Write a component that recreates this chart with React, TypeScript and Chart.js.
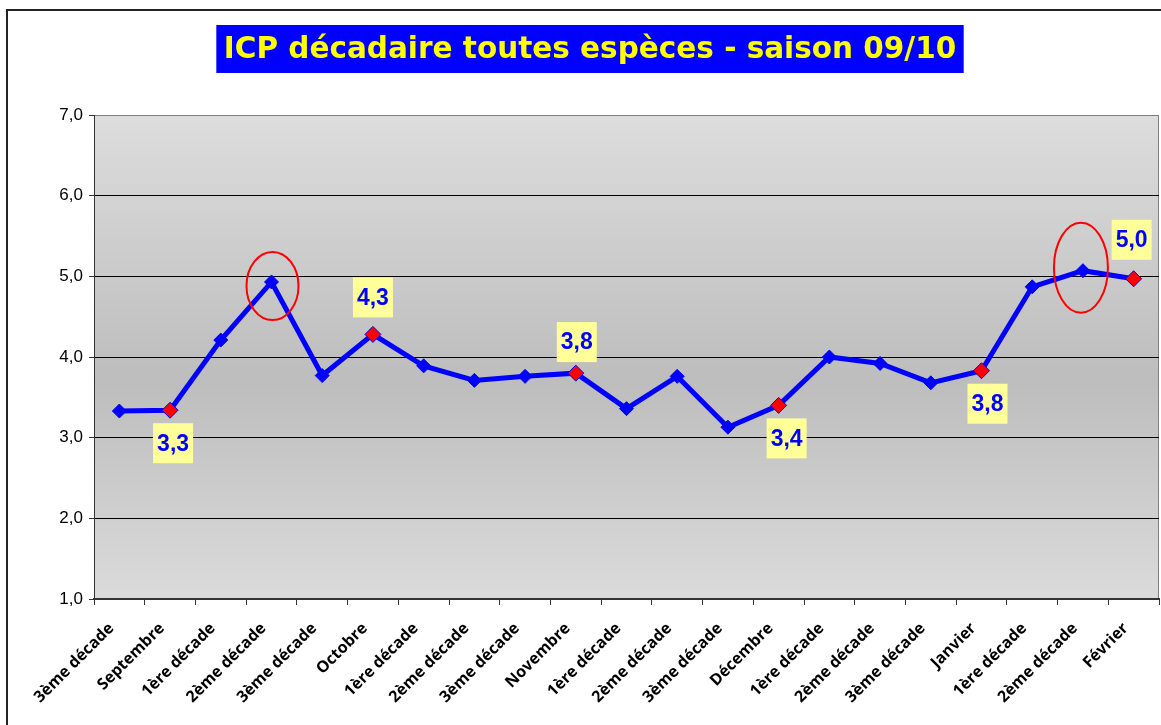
import React, { useEffect, useRef } from "react";
import { Chart, registerables } from "chart.js";

Chart.register(...registerables);

const TITLE = "ICP décadaire toutes espèces - saison 09/10";

const categories = [
  "3ème décade", "Septembre", "1ère décade", "2ème décade", "3ème décade",
  "Octobre", "1ère décade", "2ème décade", "3ème décade", "Novembre",
  "1ère décade", "2ème décade", "3ème décade", "Décembre", "1ère décade",
  "2ème décade", "3ème décade", "Janvier", "1ère décade", "2ème décade", "Février",
];

const icpValues = [
  3.33, 3.34, 4.21, 4.93, 3.77, 4.28, 3.89, 3.71, 3.76, 3.80, 3.36,
  3.76, 3.13, 3.40, 4.00, 3.92, 3.68, 3.83, 4.87, 5.07, 4.97,
];

// month-end points, shown in red with a value label
const highlighted = [1, 5, 9, 13, 17, 20];
// points circled in red
const circled = [3, 19];

const yMin = 1;
const yMax = 7;
const yStep = 1;

// style: label offsets (px) per highlighted point
const labelOffsets: [number, number][] = [
  [3, 33], [0, -37], [1, -31], [8, 33], [6, 33], [-2, -39],
];
// style: ellipse geometry per circled point [dx, dy, rx, ry]
const ellipseStyle: [number, number, number, number][] = [
  [1, 4, 26, 34],
  [-2, -3, 27, 45],
];

const fmt = (v: number) => v.toFixed(1).replace(".", ",");

export default function App() {
  const ref = useRef<HTMLCanvasElement | null>(null);

  useEffect(() => {
    const canvas = ref.current;
    if (!canvas) return;
    document.body.style.margin = "0";

    const decorPlugin = {
      id: "decor",
      beforeDraw(chart: any) {
        const { ctx, chartArea: a } = chart;
        ctx.save();
        ctx.fillStyle = "#ffffff";
        ctx.fillRect(0, 0, chart.width, chart.height);
        // outer frame
        ctx.strokeStyle = "#222";
        ctx.lineWidth = 2;
        ctx.beginPath();
        ctx.moveTo(7, chart.height);
        ctx.lineTo(7, 10);
        ctx.lineTo(chart.width, 10);
        ctx.stroke();
        // plot background gradient
        const g = ctx.createLinearGradient(0, a.top, 0, a.bottom);
        g.addColorStop(0, "#dddddd");
        g.addColorStop(0.55, "#bdbdbd");
        g.addColorStop(1, "#dbdbdb");
        ctx.fillStyle = g;
        ctx.fillRect(a.left, a.top, a.right - a.left, a.bottom - a.top);
        ctx.strokeStyle = "#808080";
        ctx.lineWidth = 1;
        ctx.strokeRect(a.left + 0.5, a.top + 0.5, a.right - a.left - 1, a.bottom - a.top);
        // title
        ctx.font = "bold 29.5px 'DejaVu Sans'";
        const tw = ctx.measureText(TITLE).width;
        const cx = 590;
        const bw = tw + 15;
        ctx.fillStyle = "#0000ff";
        ctx.fillRect(cx - bw / 2, 25, bw, 48);
        ctx.fillStyle = "#ffff00";
        ctx.textAlign = "center";
        ctx.textBaseline = "middle";
        ctx.fillText(TITLE, cx, 50);
        ctx.restore();
      },
      afterDatasetsDraw(chart: any) {
        const { ctx } = chart;
        const meta = chart.getDatasetMeta(0);
        ctx.save();
        // ellipses
        circled.forEach((idx, i) => {
          const p = meta.data[idx];
          const [dx, dy, rx, ry] = ellipseStyle[i];
          ctx.strokeStyle = "#ff0000";
          ctx.lineWidth = 2;
          ctx.beginPath();
          ctx.ellipse(p.x + dx, p.y + dy, rx, ry, 0, 0, Math.PI * 2);
          ctx.stroke();
        });
        // value labels
        ctx.font = "bold 23px 'Liberation Sans'";
        ctx.textAlign = "center";
        ctx.textBaseline = "middle";
        highlighted.forEach((idx, i) => {
          const p = meta.data[idx];
          const [dx, dy] = labelOffsets[i];
          const x = p.x + dx;
          const y = p.y + dy;
          ctx.fillStyle = "#ffff99";
          ctx.fillRect(x - 20, y - 20, 40, 40);
          ctx.fillStyle = "#0000ff";
          ctx.fillText(fmt(icpValues[idx]), x, y + 1);
        });
        ctx.restore();
      },
    };

    const chart = new Chart(canvas, {
      type: "line",
      data: {
        labels: categories,
        datasets: [
          {
            data: icpValues,
            borderColor: "#0000ff",
            borderWidth: 5,
            pointStyle: "rectRot",
            pointRadius: icpValues.map((_, i) => (highlighted.includes(i) ? 8 : 7)),
            pointHoverRadius: 7,
            pointBackgroundColor: icpValues.map((_, i) =>
              highlighted.includes(i) ? "#ff0000" : "#0000ff"
            ),
            pointBorderColor: "#0000ff",
            pointBorderWidth: 1,
            tension: 0,
          },
        ],
      },
      options: {
        responsive: false,
        animation: false,
        events: [],
        layout: { autoPadding: false, padding: { top: 115, right: 2, left: 0, bottom: 0 } },
        plugins: {
          legend: { display: false },
          tooltip: { enabled: false },
          title: { display: false },
        },
        scales: {
          x: {
            type: "category",
            offset: true,
            grid: {
              offset: true,
              drawOnChartArea: false,
              drawTicks: true,
              tickLength: 6,
              color: "#333333",
            },
            border: { color: "#333333", width: 2 },
            ticks: {
              autoSkip: false,
              maxRotation: 45,
              minRotation: 45,
              padding: 14,
              labelOffset: -8,
              color: "#000000",
              font: { family: "'Open Sans'", size: 16, weight: "bold" },
            },
            afterFit(scale: any) {
              scale.height = 126;
              scale.paddingLeft = 0;
              scale.paddingRight = 0;
            },
          },
          y: {
            min: yMin,
            max: yMax,
            ticks: {
              stepSize: yStep,
              padding: 6,
              color: "#000000",
              font: { family: "'Liberation Sans'", size: 17 },
              callback: (v: any) => fmt(Number(v)),
            },
            grid: {
              color: (c: any) => (c.tick && c.tick.value === yMax ? "#808080" : "#000000"),
              lineWidth: 1,
              tickLength: 5,
              tickColor: "#333333",
            },
            border: { color: "#333333", width: 1 },
            afterFit(scale: any) {
              scale.width = 94;
            },
          },
        },
      },
      plugins: [decorPlugin],
    } as any);

    return () => chart.destroy();
  }, []);

  return (
    <div style={{ position: "absolute", left: 0, top: 0, width: 1161, height: 725 }}>
      <canvas ref={ref} width={1161} height={725} />
    </div>
  );
}
